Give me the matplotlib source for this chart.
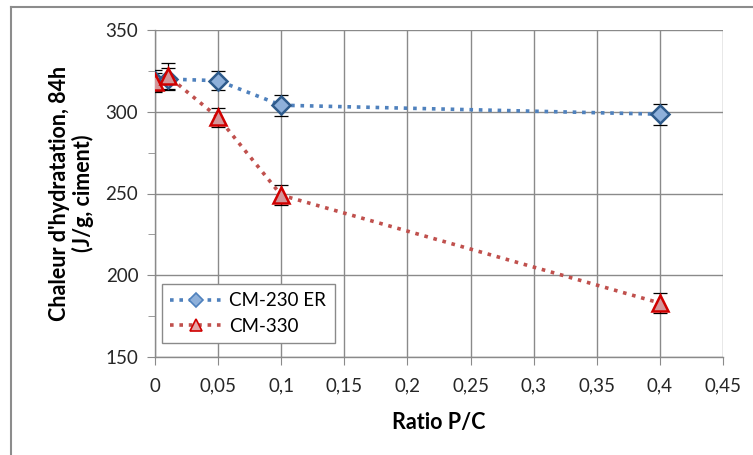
import matplotlib
matplotlib.use("Agg")
import matplotlib.pyplot as plt
from matplotlib.ticker import MultipleLocator, FuncFormatter
from matplotlib.lines import Line2D

# Data
ratio = [0.0, 0.01, 0.05, 0.1, 0.4]
cm230 = [319, 320, 319, 304, 298.5]
cm230_err = [6.5, 6.5, 6, 6.5, 6.5]
cm330 = [318, 322, 296.5, 249, 183]
cm330_err = [6, 8, 6, 6, 6]
labels = ["CM-230 ER", "CM-330"]

plt.rcParams['font.family'] = ['Lato', 'DejaVu Sans']

fig = plt.figure(figsize=(7.53, 4.55), dpi=100)
ax = fig.add_axes([155/753, 1-357/455, (723-155)/753, (357-30)/455])

# figure border (top + left)
fig.add_artist(Line2D([11/753, 1.0], [1-7/455, 1-7/455], transform=fig.transFigure,
                      color='#8c8c8c', lw=1.5))
fig.add_artist(Line2D([11/753, 11/753], [1-7/455, 0], transform=fig.transFigure,
                      color='#8c8c8c', lw=1.5))

blue_line = '#4F81BD'
red_line = '#C0504D'
ls = (0, (1, 1.6))

ax.errorbar(ratio, cm230, yerr=cm230_err, fmt='none', ecolor='black', elinewidth=0.9,
            capsize=5, capthick=0.9, zorder=3)
ax.errorbar(ratio, cm330, yerr=cm330_err, fmt='none', ecolor='black', elinewidth=0.9,
            capsize=5, capthick=0.9, zorder=3)

ax.plot(ratio, cm230, linestyle=ls, color=blue_line, lw=2.6,
        marker='D', markersize=9.5, markerfacecolor='#8EB0DA', markeredgecolor='#2E5B8C',
        markeredgewidth=1.8, zorder=4)
ax.plot(ratio, cm330, linestyle=ls, color=red_line, lw=2.6,
        marker='^', markersize=11.5, markerfacecolor='#D4969A', markeredgecolor='#D00000',
        markeredgewidth=1.8, zorder=5)

ax.set_xlim(0, 0.45)
ax.set_ylim(150, 350)
ax.xaxis.set_major_locator(MultipleLocator(0.05))
ax.yaxis.set_major_locator(MultipleLocator(50))
ax.yaxis.set_minor_locator(MultipleLocator(25))

def fmt(v, pos):
    s = ('%.2f' % v).rstrip('0').rstrip('.')
    return s.replace('.', ',')
ax.xaxis.set_major_formatter(FuncFormatter(fmt))

ax.grid(True, which='major', color='#8a8a8a', lw=1.0)
ax.set_axisbelow(True)
for s in ['top', 'right']:
    ax.spines[s].set_visible(False)
for s in ['left', 'bottom']:
    ax.spines[s].set_color('#8a8a8a')
    ax.spines[s].set_linewidth(1.0)

ax.tick_params(axis='both', which='major', length=6, color='#8a8a8a', labelsize=13.5,
               labelcolor='#262626')
ax.tick_params(axis='y', which='minor', length=5, color='#8a8a8a')
ax.tick_params(axis='x', pad=9)
ax.tick_params(axis='y', pad=6)

ax.set_xlabel('Ratio P/C', fontsize=15.5, fontweight='bold', labelpad=12)
ax.set_ylabel("Chaleur d'hydratation, 84h\n(J/g, ciment)", fontsize=15.5,
              fontweight='bold', labelpad=8, linespacing=1.15)

handles = [
    Line2D([], [], linestyle=ls, color=blue_line, lw=2.6, marker='D', markersize=7,
           markerfacecolor='#8EB0DA', markeredgecolor='#4F81BD', markeredgewidth=1.2),
    Line2D([], [], linestyle=ls, color=red_line, lw=2.6, marker='^', markersize=9,
           markerfacecolor='#E3A6A6', markeredgecolor='#D00000', markeredgewidth=1.2),
]
leg = ax.legend(handles, labels, loc='lower left', bbox_to_anchor=(0.0123, 0.043),
                borderaxespad=0, fontsize=13.5, frameon=True, fancybox=False,
                edgecolor='#8a8a8a', framealpha=1, handlelength=2.7, borderpad=0.45,
                labelspacing=0.45, handletextpad=0.45)
leg.get_frame().set_linewidth(1.0)

fig.savefig('out.png', dpi=100)
